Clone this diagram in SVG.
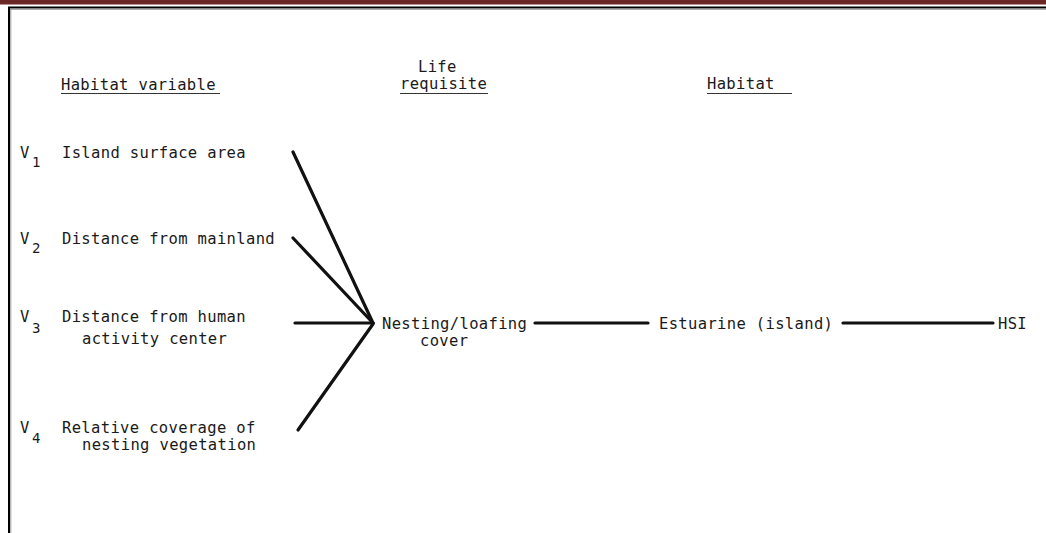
<svg xmlns="http://www.w3.org/2000/svg" width="1046" height="533" viewBox="0 0 1046 533">
<style>
text{font-family:"DejaVu Sans Mono","Liberation Mono",monospace;font-size:15.5px;letter-spacing:0.35px;fill:#1a1a1a}
.sub{font-size:14px}
.conn{stroke:#111;stroke-width:3.2;fill:none;stroke-linecap:round}
.ul{stroke:#333;stroke-width:1.2}
</style>
<rect x="0" y="0" width="1046" height="4.5" fill="#6b2626"/>
<g id="frame">
<line x1="8" y1="7.5" x2="1046" y2="7.5" stroke="#000" stroke-width="2"/>
<line x1="10" y1="9.3" x2="1046" y2="9.3" stroke="#999" stroke-width="1"/>
<line x1="9" y1="7" x2="9" y2="533" stroke="#000" stroke-width="2"/>
<line x1="10.8" y1="9" x2="10.8" y2="533" stroke="#999" stroke-width="1"/>
</g>
<g id="headers">
<text x="61" y="90">Habitat variable</text>
<line class="ul" x1="61" y1="93.5" x2="220" y2="93.5"/>
<text x="418" y="72">Life</text>
<text x="400" y="89">requisite</text>
<line class="ul" x1="400" y1="93.5" x2="488" y2="93.5"/>
<text x="707" y="89">Habitat</text>
<line class="ul" x1="707" y1="93.5" x2="792" y2="93.5"/>
</g>
<g id="v1">
<text x="20" y="158">V</text><text class="sub" x="32" y="167">1</text>
<text x="62" y="158">Island surface area</text>
</g>
<g id="v2">
<text x="20" y="244">V</text><text class="sub" x="32" y="253">2</text>
<text x="62" y="244">Distance from mainland</text>
</g>
<g id="v3">
<text x="20" y="322">V</text><text class="sub" x="32" y="333">3</text>
<text x="62" y="322">Distance from human</text>
<text x="82" y="344">activity center</text>
</g>
<g id="v4">
<text x="20" y="433">V</text><text class="sub" x="32" y="443">4</text>
<text x="62" y="433">Relative coverage of</text>
<text x="82" y="450">nesting vegetation</text>
</g>
<g id="life-requisite">
<text x="382" y="329">Nesting/loafing</text>
<text x="420" y="346">cover</text>
</g>
<g id="habitat">
<text x="659" y="329">Estuarine (island)</text>
</g>
<g id="hsi">
<text x="998" y="329">HSI</text>
</g>
<g id="connectors">
<line class="conn" x1="293" y1="152" x2="373" y2="323"/>
<line class="conn" x1="293" y1="238" x2="373" y2="323"/>
<line class="conn" x1="295" y1="323" x2="373" y2="323"/>
<line class="conn" x1="298" y1="430" x2="373" y2="324"/>
<line class="conn" x1="535" y1="323" x2="648" y2="323" stroke-width="2.6"/>
<line class="conn" x1="843" y1="323" x2="993" y2="323" stroke-width="2.6"/>
</g>
</svg>
